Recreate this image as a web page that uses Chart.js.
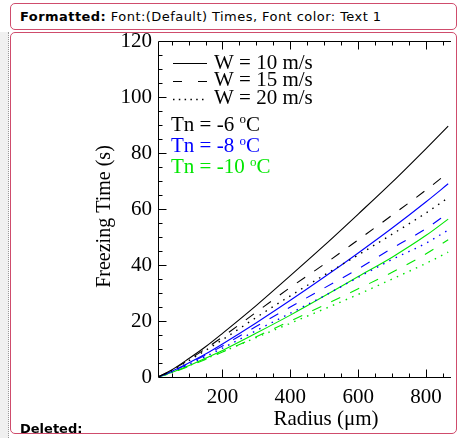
<!DOCTYPE html>
<html><head><meta charset="utf-8">
<script src="https://cdn.jsdelivr.net/npm/chart.js@4.4.0/dist/chart.umd.min.js"></script>
<style>
html,body{margin:0;padding:0;background:#fff;width:465px;height:438px;overflow:hidden;position:relative;font-family:"DejaVu Sans",sans-serif;}
#strip{position:absolute;left:0;top:32px;width:8px;height:406px;background:#f0f0f0;border-right:1px dotted #9a9a9a;}
#box1{position:absolute;left:10px;top:3px;width:445px;height:25px;border:1px solid #cf4c6c;border-radius:5px;box-sizing:content-box;}
#box1 div{position:absolute;left:9px;top:5px;font-size:13px;letter-spacing:0.45px;line-height:15px;color:#000;white-space:nowrap;}
#box2{position:absolute;left:10px;top:32px;width:445px;height:400px;border:1px solid #cf4c6c;border-radius:5px;}
#del{position:absolute;left:20px;top:421px;font-size:13px;line-height:15px;font-weight:bold;color:#000;}
#clip{position:absolute;left:0;top:0;width:451px;height:438px;overflow:hidden;}
#clip canvas{position:absolute;left:0;top:0;}
</style></head>
<body>
<div id="strip"></div>
<div id="box1"><div><b>Formatted:</b> Font:(Default) Times, Font color: Text 1</div></div>
<div id="box2"></div>
<div id="clip"><canvas id="c" width="540" height="438"></canvas></div>
<div id="del">Deleted:</div>
<script>
// Radius values (µm) at which curves were read
const radius = [10, 50, 100, 150, 200, 300, 400, 500, 600, 700, 800, 865];
// Freezing time (s)
const tn6_w10  = [0, 2.5, 6.5, 10.8, 15.6, 25.6, 36.2, 47.0, 58.2, 69.6, 81.6, 89.6];
const tn6_w15  = [0, 2.4, 6.1, 10.1, 14.3, 23.2, 32.0, 40.3, 49.0, 57.8, 66.8, 73.0];
const tn6_w20  = [0, 2.3, 5.8, 9.5, 13.3, 21.3, 29.0, 36.4, 43.6, 51.0, 58.6, 64.0];
const tn8_w10  = [0, 2.0, 5.0, 8.2, 11.8, 19.4, 27.4, 35.7, 44.3, 53.2, 62.6, 69.0];
const tn8_w15  = [0, 1.9, 4.8, 7.8, 11.1, 18.1, 25.0, 31.8, 38.6, 46.0, 53.0, 58.6];
const tn8_w20  = [0, 1.8, 4.5, 7.3, 10.3, 16.6, 22.8, 29.0, 35.6, 42.0, 47.8, 52.5];
const tn10_w10 = [0, 1.6, 4.0, 6.7, 9.5, 15.7, 22.1, 28.9, 35.9, 42.8, 50.6, 56.4];
const tn10_w15 = [0, 1.5, 3.8, 6.3, 8.9, 14.4, 20.0, 25.7, 31.5, 37.4, 44.0, 49.0];
const tn10_w20 = [0, 1.6, 4.0, 6.5, 9.0, 14.1, 19.2, 24.3, 29.5, 35.0, 40.6, 44.6];

const xTickLabels = [200, 400, 600, 800, 1000];
const yTickLabels = [0, 20, 40, 60, 80, 100, 120];
const windLabels = ['W = 10 m/s', 'W = 15 m/s', 'W = 20 m/s'];
const tempLabels = ['Tn = -6 ', 'Tn = -8 ', 'Tn = -10 '];

const BLACK = '#000000', BLUE = '#0000ff', GREEN = '#00e600';
const SOLID = [], DASH = [10, 11], DOT = [1.5, 5.5];
const tempColors = [BLACK, BLUE, GREEN];
const FONT = 'Liberation Serif';

function pts(arr){ return radius.map((r, i) => ({x: r, y: arr[i]})); }
function ds(arr, color, dash){
  return {data: pts(arr), borderColor: color, borderWidth: dash === DOT ? 1.4 : 1.1,
          borderDash: dash, pointRadius: 0, fill: false, cubicInterpolationMode: 'monotone'};
}
const datasets = [
  ds(tn6_w10, BLACK, SOLID), ds(tn6_w15, BLACK, DASH), ds(tn6_w20, BLACK, DOT),
  ds(tn8_w10, BLUE, SOLID), ds(tn8_w15, BLUE, DASH), ds(tn8_w20, BLUE, DOT),
  ds(tn10_w10, GREEN, SOLID), ds(tn10_w15, GREEN, DASH), ds(tn10_w20, GREEN, DOT)
];

const frame = {
  id: 'frame',
  afterDraw(chart){
    const {ctx, chartArea: a, scales: {x, y}} = chart;
    ctx.save();
    ctx.strokeStyle = '#000'; ctx.lineWidth = 1; ctx.setLineDash([]);
    const L = Math.round(a.left) + 0.5, R = Math.round(a.right) + 0.5;
    const T = Math.round(a.top) + 0.5, B = Math.round(a.bottom) + 0.5;
    ctx.beginPath();
    ctx.moveTo(L, T); ctx.lineTo(R, T); ctx.lineTo(R, B); ctx.lineTo(L, B); ctx.closePath();
    for (let v = 50; v <= 1000; v += 50){
      const p = Math.round(x.getPixelForValue(v)) + 0.5;
      const len = v % 200 === 0 ? 8 : 4;
      ctx.moveTo(p, B); ctx.lineTo(p, B - len);
      ctx.moveTo(p, T); ctx.lineTo(p, T + len);
    }
    for (let v = 5; v < 120; v += 5){
      const p = Math.round(y.getPixelForValue(v)) + 0.5;
      const len = v % 20 === 0 ? 8 : 4;
      ctx.moveTo(L, p); ctx.lineTo(L + len, p);
      ctx.moveTo(R, p); ctx.lineTo(R - len, p);
    }
    ctx.stroke();

    // legend: wind line styles
    const dashes = [SOLID, [9, 16], [1.5, 4.3]];
    ctx.font = '21px "' + FONT + '"';
    ctx.textBaseline = 'middle';
    const lx = a.left + 15, ly = [a.top + 22, a.top + 39.5, a.top + 57.5];
    windLabels.forEach((t, i) => {
      ctx.beginPath();
      ctx.setLineDash(dashes[i]);
      ctx.lineWidth = i === 2 ? 1.4 : 1.1;
      ctx.strokeStyle = '#000';
      ctx.moveTo(lx, Math.round(ly[i]) + 0.5); ctx.lineTo(lx + 34, Math.round(ly[i]) + 0.5);
      ctx.stroke();
      ctx.fillStyle = '#000';
      ctx.fillText(t, lx + 41, ly[i]);
    });
    ctx.setLineDash([]);
    // legend: temperatures
    const tx = a.left + 13, ty = [a.top + 84, a.top + 105.5, a.top + 126.5];
    tempLabels.forEach((t, i) => {
      ctx.fillStyle = tempColors[i];
      ctx.font = '21px "' + FONT + '"';
      ctx.fillText(t, tx, ty[i]);
      let w = ctx.measureText(t).width;
      ctx.font = '13px "' + FONT + '"';
      ctx.fillText('o', tx + w, ty[i] - 5);
      w += ctx.measureText('o').width;
      ctx.font = '21px "' + FONT + '"';
      ctx.fillText('C', tx + w, ty[i]);
    });
    ctx.restore();
  }
};

new Chart(document.getElementById('c'), {
  type: 'line',
  data: {datasets},
  options: {
    responsive: false, animation: false, devicePixelRatio: 1,
    layout: {padding: {left: 0, top: 41, right: 46, bottom: 0}},
    plugins: {legend: {display: false}, tooltip: {enabled: false}},
    scales: {
      x: {
        type: 'linear', min: 10, max: 1000,
        afterBuildTicks: s => { s.ticks = xTickLabels.map(v => ({value: v})); },
        afterFit: s => { s.height = 61; },
        grid: {display: false, drawTicks: false}, border: {display: false},
        ticks: {font: {family: FONT, size: 21}, color: '#000', padding: 8, maxRotation: 0, autoSkip: false},
        title: {display: true, text: 'Radius (μm)', color: '#000', font: {family: FONT, size: 21}, padding: {top: 0, bottom: 6}}
      },
      y: {
        type: 'linear', min: 0, max: 120,
        afterBuildTicks: s => { s.ticks = yTickLabels.map(v => ({value: v})); },
        afterFit: s => { s.width = 158; },
        grid: {display: false, drawTicks: false}, border: {display: false},
        ticks: {font: {family: FONT, size: 21}, color: '#000', padding: 6, autoSkip: false},
        title: {display: true, text: 'Freezing Time (s)   ', color: '#000', font: {family: FONT, size: 20}, padding: {top: 93, bottom: 0}}
      }
    }
  },
  plugins: [frame]
});
</script>
</body></html>
